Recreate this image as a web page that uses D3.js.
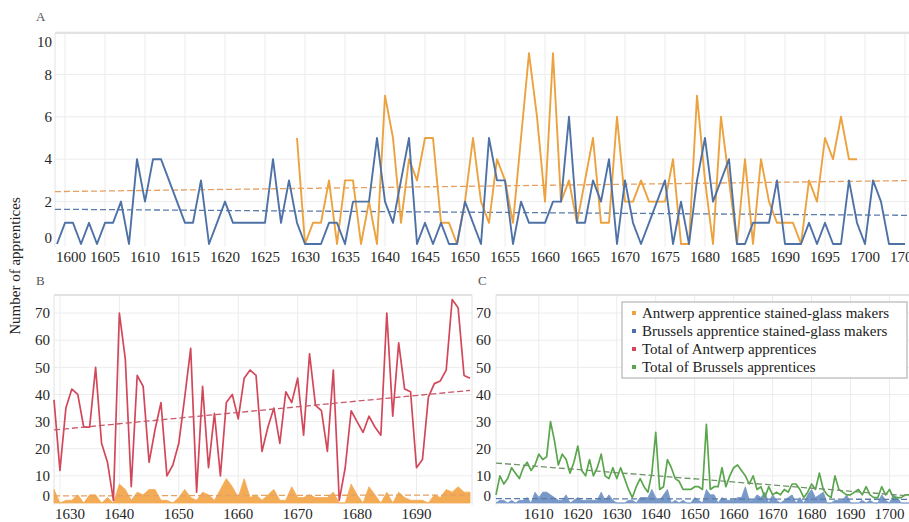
<!DOCTYPE html>
<html>
<head>
<meta charset="utf-8">
<script src="https://cdn.jsdelivr.net/npm/d3@7"></script>
<style>
  html, body { margin: 0; padding: 0; background: #fff; }
  svg { display: block; }
  svg text { font-family: "Liberation Serif", "Times New Roman", Times, "DejaVu Serif", "Noto Serif", serif; }
</style>
</head>
<body>
<svg id="chart" width="909" height="522"></svg>
<script>
// ---- data: apprentices per year ----
const brusselsYears = d3.range(1599, 1706);
const antwerpYears = d3.range(1629, 1700);

// Brussels apprentice stained-glass makers, 1599-1705
const brusselsGlass = [
  0,1,1,0,1,0,1,1,2,0,
  4,2,4,4,3,2,1,1,3,0,
  1,2,1,1,1,1,1,4,1,3,
  1,0,0,0,1,1,0,2,2,2,
  5,2,1,3,5,0,1,0,1,0,
  0,2,1,0,5,3,3,0,2,1,
  1,1,2,2,6,1,1,3,2,4,
  0,3,1,0,1,2,3,0,2,0,
  3,5,2,3,4,0,0,1,1,1,
  3,0,0,0,1,0,1,0,0,3,
  1,0,3,2,0,0,0
];

// Antwerp apprentice stained-glass makers, 1629-1699
const antwerpGlass = [
  5,0,1,1,3,0,3,3,0,2,
  0,7,5,1,4,3,5,5,1,1,
  0,2,5,2,1,4,3,1,5,9,
  6,2,9,2,3,1,3,5,1,1,
  6,2,2,3,2,2,2,4,0,0,
  7,3,0,6,3,0,4,0,4,2,
  1,1,1,0,3,2,5,4,6,4,
  4
];

// Total of Antwerp apprentices, 1629-1699
const antwerpTotal = [
  38,12,35,42,40,28,28,50,22,15,
  1,70,53,6,47,43,15,27,37,10,
  14,22,39,57,4,43,13,33,10,37,
  40,31,46,49,47,19,28,35,22,41,
  37,46,25,55,36,34,19,49,1,13,
  34,30,26,32,28,25,70,32,59,42,
  41,13,16,39,44,45,49,75,72,47,
  46
];

// Total of Brussels apprentices, 1599-1705
const brusselsTotal = [
  3,10,7,9,13,11,9,13,15,12,
  14,18,16,17,30,23,14,18,16,11,
  15,21,12,10,16,10,13,18,10,9,
  13,9,13,9,5,2,6,9,6,4,
  11,26,5,6,16,13,9,8,5,5,
  5,6,6,5,29,5,6,6,13,6,
  10,13,14,12,10,7,10,5,6,2,
  6,3,4,3,5,4,7,7,5,2,
  4,7,5,11,5,3,2,10,5,4,
  3,3,4,5,3,6,3,2,2,6,
  3,5,2,2,2,3,3
];

const ticksAX = d3.range(1600, 1706, 5);
const ticksAY = [0, 2, 4, 6, 8, 10];
const ticksBX = [1630, 1640, 1650, 1660, 1670, 1680, 1690];
const ticksCX = [1610, 1620, 1630, 1640, 1650, 1660, 1670, 1680, 1690, 1700];
const ticksBCY = [0, 10, 20, 30, 40, 50, 60, 70];

const legendLabels = [
  "Antwerp apprentice stained-glass makers",
  "Brussels apprentice stained-glass makers",
  "Total of Antwerp apprentices",
  "Total of Brussels apprentices"
];

// ---- colours ----
const C = {
  orange: "#eca23e", orangeFill: "#f4ab55", orangeTrend: "#e6a062",
  blue: "#4e72a6", blueFill: "#7898c8", blueTrend: "#5a7bab",
  red: "#d2485a", redTrend: "#c9586a",
  green: "#5aa64c", greenTrend: "#6f9366",
  grid: "#ececec", frame: "#e2e2e2"
};

const svg = d3.select("#chart");

// least-squares line through (xs, ys)
function linearFit(xs, ys) {
  const mx = d3.mean(xs), my = d3.mean(ys);
  const slope = d3.sum(xs, (x, i) => (x - mx) * (ys[i] - my)) / d3.sum(xs, x => (x - mx) ** 2);
  return x => my + slope * (x - mx);
}

function pairs(xs, ys) { return xs.map((x, i) => [x, ys[i]]); }

function panel(opts) {
  const { x, y, top, bottom, left, right, xTicks, yTicks, yLabelX, xLabelY, letter, letterPos } = opts;
  const g = svg.append("g");
  // grid
  g.append("g").selectAll("line").data(xTicks).join("line")
    .attr("x1", d => x(d)).attr("x2", d => x(d))
    .attr("y1", top).attr("y2", bottom)
    .attr("stroke", C.grid).attr("stroke-width", 1);
  g.append("g").selectAll("line").data(yTicks.filter(d => d > 0)).join("line")
    .attr("x1", left).attr("x2", right)
    .attr("y1", d => y(d)).attr("y2", d => y(d))
    .attr("stroke", C.grid).attr("stroke-width", 1);
  // frame
  g.append("line").attr("x1", left).attr("x2", right).attr("y1", top).attr("y2", top)
    .attr("stroke", C.frame).attr("stroke-width", 2);
  g.append("line").attr("x1", left).attr("x2", left).attr("y1", top).attr("y2", bottom)
    .attr("stroke", C.frame).attr("stroke-width", 1);
  if (opts.rightFrame) {
    g.append("line").attr("x1", right).attr("x2", right).attr("y1", top).attr("y2", bottom)
      .attr("stroke", C.frame).attr("stroke-width", 1);
  }
  // tick labels, kept inside the plot frame at the ends
  g.append("g").selectAll("text").data(yTicks).join("text")
    .attr("x", yLabelX)
    .attr("y", d => Math.max(top + 9, Math.min(bottom - 9, y(d))))
    .attr("dy", "0.35em")
    .attr("text-anchor", "end").attr("font-size", 15).attr("fill", "#262626").text(d => d);
  g.append("g").selectAll("text").data(xTicks).join("text")
    .attr("x", d => Math.max(left + 16, x(d))).attr("y", xLabelY)
    .attr("text-anchor", "middle").attr("font-size", 15).attr("fill", "#262626").text(d => d);
  svg.append("text").attr("x", letterPos[0]).attr("y", letterPos[1])
    .attr("font-size", 13).attr("fill", "#555").text(letter);
  return g;
}

function drawLine(g, x, y, data, color, width) {
  g.append("path").datum(data)
    .attr("fill", "none").attr("stroke", color).attr("stroke-width", width)
    .attr("stroke-linejoin", "round")
    .attr("d", d3.line().x(d => x(d[0])).y(d => y(d[1])));
}

function drawArea(g, x, y, data, color) {
  g.append("path").datum(data)
    .attr("fill", color).attr("stroke", color).attr("stroke-width", 0.8)
    .attr("d", d3.area().x(d => x(d[0])).y0(y(0)).y1(d => y(d[1])));
}

function drawTrend(g, x, y, xs, ys, domain, color) {
  const f = linearFit(xs, ys);
  g.append("line")
    .attr("x1", x(domain[0])).attr("x2", x(domain[1]))
    .attr("y1", y(f(domain[0]))).attr("y2", y(f(domain[1])))
    .attr("stroke", color).attr("stroke-width", 1.3)
    .attr("stroke-dasharray", "6,3");
}

// ---- panel A: stained-glass apprentices, both cities ----
const xA = d3.scaleLinear().domain([1598.75, 1705.5]).range([55, 909]);
const yA = d3.scaleLinear().domain([0, 10]).range([244, 32]);
const gA = panel({
  x: xA, y: yA, top: 33, bottom: 247, left: 55, right: 909,
  xTicks: ticksAX, yTicks: ticksAY, yLabelX: 52, xLabelY: 262,
  letter: "A", letterPos: [36, 21]
});
drawTrend(gA, xA, yA, antwerpYears, antwerpGlass, xA.domain(), C.orangeTrend);
drawTrend(gA, xA, yA, brusselsYears, brusselsGlass, xA.domain(), C.blueTrend);
drawLine(gA, xA, yA, pairs(antwerpYears, antwerpGlass), C.orange, 1.9);
drawLine(gA, xA, yA, pairs(brusselsYears, brusselsGlass), C.blue, 1.9);

// ---- panel B: Antwerp ----
const yBC = d3.scaleLinear().domain([0, 75]).range([503, 299.5]);
const xB = d3.scaleLinear().domain([1629, 1699]).range([54, 470]);
const gB = panel({
  x: xB, y: yBC, top: 295, bottom: 505, left: 54, right: 472, rightFrame: true,
  xTicks: ticksBX, yTicks: ticksBCY, yLabelX: 50, xLabelY: 519,
  letter: "B", letterPos: [36, 285]
});
drawArea(gB, xB, yBC, pairs(antwerpYears, antwerpGlass), C.orangeFill);
drawTrend(gB, xB, yBC, antwerpYears, antwerpGlass, xB.domain(), C.orangeTrend);
drawLine(gB, xB, yBC, pairs(antwerpYears, antwerpTotal), C.red, 1.7);
drawTrend(gB, xB, yBC, antwerpYears, antwerpTotal, xB.domain(), C.redTrend);

// ---- panel C: Brussels ----
const xC = d3.scaleLinear().domain([1599, 1705]).range([496, 909]);
const gC = panel({
  x: xC, y: yBC, top: 295, bottom: 505, left: 496, right: 909,
  xTicks: ticksCX, yTicks: ticksBCY, yLabelX: 491, xLabelY: 519,
  letter: "C", letterPos: [478, 285]
});
drawArea(gC, xC, yBC, pairs(brusselsYears, brusselsGlass), C.blueFill);
drawTrend(gC, xC, yBC, brusselsYears, brusselsGlass, xC.domain(), C.blueTrend);
drawLine(gC, xC, yBC, pairs(brusselsYears, brusselsTotal), C.green, 1.7);
drawTrend(gC, xC, yBC, brusselsYears, brusselsTotal, xC.domain(), C.greenTrend);

// ---- shared y-axis title ----
svg.append("text")
  .attr("transform", "translate(20,266) rotate(-90)")
  .attr("text-anchor", "middle").attr("font-size", 15).attr("fill", "#222")
  .text("Number of apprentices");

// ---- legend ----
const legendColors = [C.orange, C.blue, C.red, C.green];
const lg = svg.append("g").attr("transform", "translate(622,302)");
lg.append("rect").attr("width", 285).attr("height", 76)
  .attr("fill", "#fff").attr("stroke", "#c4c4c4").attr("stroke-width", 1.5);
const rows = lg.selectAll("g.row").data(legendLabels).join("g")
  .attr("class", "row")
  .attr("transform", (d, i) => `translate(0,${11 + i * 18})`);
rows.append("rect").attr("x", 10).attr("y", -2).attr("width", 4).attr("height", 4)
  .attr("fill", (d, i) => legendColors[i]);
rows.append("text").attr("x", 20).attr("dy", "0.35em")
  .attr("font-size", 15).attr("fill", "#222").text(d => d);
</script>
</body>
</html>
